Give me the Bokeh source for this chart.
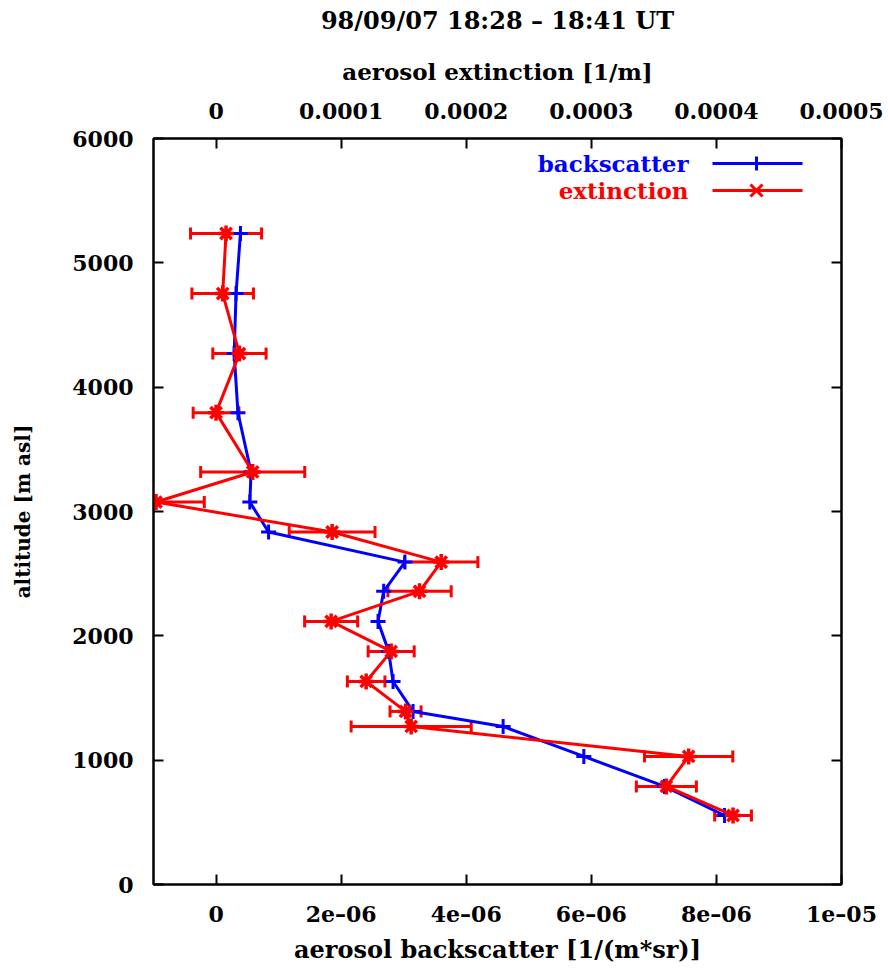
from bokeh.plotting import figure
from bokeh.models import (Range1d, LinearAxis, FixedTicker, Whisker, TeeHead,
                          ColumnDataSource, Label, Arrow)
from bokeh.embed import file_html
from bokeh.resources import INLINE

# ---- data ----
altitude = [5236, 4753, 4270, 3795, 3318, 3076, 2835, 2593, 2358, 2116,
            1875, 1633, 1392, 1271, 1030, 789, 555]
backscatter_e6 = [0.39, 0.32, 0.29, 0.35, 0.56, 0.54, 0.84, 3.02, 2.68, 2.59,
                  2.76, 2.83, 3.15, 4.59, 5.88, 7.17, 8.13]
extinction_e4 = [0.08, 0.053, 0.187, 0.0, 0.293, -0.48, 0.928, 1.80, 1.627, 0.92,
                 1.40, 1.20, 1.515, 1.56, 3.778, 3.60, 4.133]
ext_err_e4 = [0.284, 0.246, 0.213, 0.183, 0.416, 0.386, 0.343, 0.293, 0.253, 0.212,
              0.184, 0.15, 0.124, 0.48, 0.353, 0.24, 0.147]

bsc_ticks = [0, 2e-6, 4e-6, 6e-6, 8e-6, 1e-5]
bsc_tick_labels = ["0", "2e\u201306", "4e\u201306", "6e\u201306", "8e\u201306", "1e\u201305"]
ext_ticks = [0, 1e-4, 2e-4, 3e-4, 4e-4, 5e-4]
ext_tick_labels = ["0", "0.0001", "0.0002", "0.0003", "0.0004", "0.0005"]
alt_ticks = [0, 1000, 2000, 3000, 4000, 5000, 6000]

title_text = "98/09/07 18:28 \u2013 18:41 UT"

bsc = [v * 1e-6 for v in backscatter_e6]
ext = [v * 1e-4 for v in extinction_e4]
err = [v * 1e-4 for v in ext_err_e4]
lo = [e - d for e, d in zip(ext, err)]
hi = [e + d for e, d in zip(ext, err)]

FONT = "DejaVu Serif"
FS = "22px"

# frame placement (page pixels)
FL, FT, FR, FB = 153, 138, 841, 884
W, H = 888, 968

p = figure(width=W, height=H, output_backend="svg", toolbar_location=None,
           x_range=Range1d(-1e-6, 1e-5), y_range=Range1d(0, 6000),
           min_border_left=FL, min_border_right=W - FR, min_border_top=FT,
           min_border_bottom=H - FB)
p.extra_x_ranges = {"ext": Range1d(-5e-5, 5e-4)}
p.grid.visible = False
p.outline_line_color = "black"
p.outline_line_width = 2

def style_axis(ax, size=FS, label_size=FS):
    ax.major_tick_in = 10
    ax.major_tick_out = 0
    ax.minor_tick_line_color = None
    ax.major_tick_line_width = 2
    ax.axis_line_width = 2
    ax.axis_line_color = "black"
    ax.major_label_text_font = FONT
    ax.major_label_text_font_style = "bold"
    ax.major_label_text_font_size = size
    ax.major_label_text_color = "black"
    ax.axis_label_text_font = FONT
    ax.axis_label_text_font_style = "bold"
    ax.axis_label_text_font_size = label_size
    ax.axis_label_text_color = "black"

# bottom axis
xb = p.xaxis[0]
xb.ticker = FixedTicker(ticks=bsc_ticks)
xb.major_label_overrides = {t: l for t, l in zip(bsc_ticks, bsc_tick_labels)}
xb.axis_label = "aerosol backscatter [1/(m*sr)]"
style_axis(xb, label_size="24px")
xb.major_label_standoff = 16
xb.axis_label_standoff = 5

# left axis
yl = p.yaxis[0]
yl.ticker = FixedTicker(ticks=alt_ticks)
yl.axis_label = "altitude [m asl]"
style_axis(yl, label_size="20px")
yl.major_label_standoff = 20
yl.axis_label_standoff = 34

# top axis (extinction)
xt = LinearAxis(x_range_name="ext", axis_label="aerosol extinction [1/m]")
xt.ticker = FixedTicker(ticks=ext_ticks)
xt.major_label_overrides = {t: l for t, l in zip(ext_ticks, ext_tick_labels)}
style_axis(xt, label_size="23px")
xt.major_label_standoff = 20
xt.axis_label_standoff = 15
p.add_layout(xt, "above")

# outermost "axis" carrying only the chart title (no line, no ticks)
xtitle = LinearAxis(x_range_name="ext", axis_label=title_text,
                    ticker=FixedTicker(ticks=[]))
style_axis(xtitle, label_size="24px")
xtitle.axis_line_color = None
xtitle.major_tick_line_color = None
xtitle.major_tick_in = 0
xtitle.major_label_standoff = 0
xtitle.axis_label_standoff = 20
p.add_layout(xtitle, "above")

# right axis: mirrored ticks only
yr = LinearAxis(ticker=FixedTicker(ticks=alt_ticks))
style_axis(yr)
yr.major_label_overrides = {t: "" for t in alt_ticks}
yr.major_label_standoff = 0
p.add_layout(yr, "right")

BLUE = "#0000ff"
RED = "#ff0000"

src_b = ColumnDataSource(dict(x=bsc, y=altitude))
src_e = ColumnDataSource(dict(x=ext, y=altitude, lo=lo, hi=hi))

p.line("x", "y", source=src_b, line_color=BLUE, line_width=3)
p.scatter("x", "y", source=src_b, marker="cross", size=15, line_color=BLUE, line_width=3)

wh = Whisker(source=src_e, base="y", lower="lo", upper="hi", dimension="width",
             x_range_name="ext", line_color=RED, line_width=3,
             lower_head=TeeHead(size=12, line_color=RED, line_width=3),
             upper_head=TeeHead(size=12, line_color=RED, line_width=3))
p.add_layout(wh)
p.line("x", "y", source=src_e, line_color=RED, line_width=3, x_range_name="ext")
p.scatter("x", "y", source=src_e, marker="asterisk", size=16, line_color=RED,
          line_width=3.5, x_range_name="ext")

# legend (manual, gnuplot style: text then sample)
def legend_entry(ypage, text, color, marker):
    cy = FB - ypage
    p.add_layout(Label(x=688 - FL, y=cy, x_units="screen", y_units="screen",
                       text=text, text_font=FONT, text_font_style="bold",
                       text_font_size="23px", text_color=color,
                       text_align="right", text_baseline="middle"))
    p.add_layout(Arrow(x_start=712 - FL, y_start=cy, x_end=802 - FL, y_end=cy,
                       start_units="screen", end_units="screen",
                       line_color=color, line_width=3, end=None))
    cx = 756 - FL
    if marker == "+":
        p.add_layout(Arrow(x_start=cx, y_start=cy - 7, x_end=cx, y_end=cy + 7,
                           start_units="screen", end_units="screen",
                           line_color=color, line_width=3, end=None))
    else:
        for dx in (-6, 6):
            p.add_layout(Arrow(x_start=cx - dx, y_start=cy - 6, x_end=cx + dx, y_end=cy + 6,
                               start_units="screen", end_units="screen",
                               line_color=color, line_width=3, end=None))

legend_entry(163, "backscatter", BLUE, "+")
legend_entry(190, "extinction", RED, "x")

open("out.html", "w").write(file_html(p, INLINE))
